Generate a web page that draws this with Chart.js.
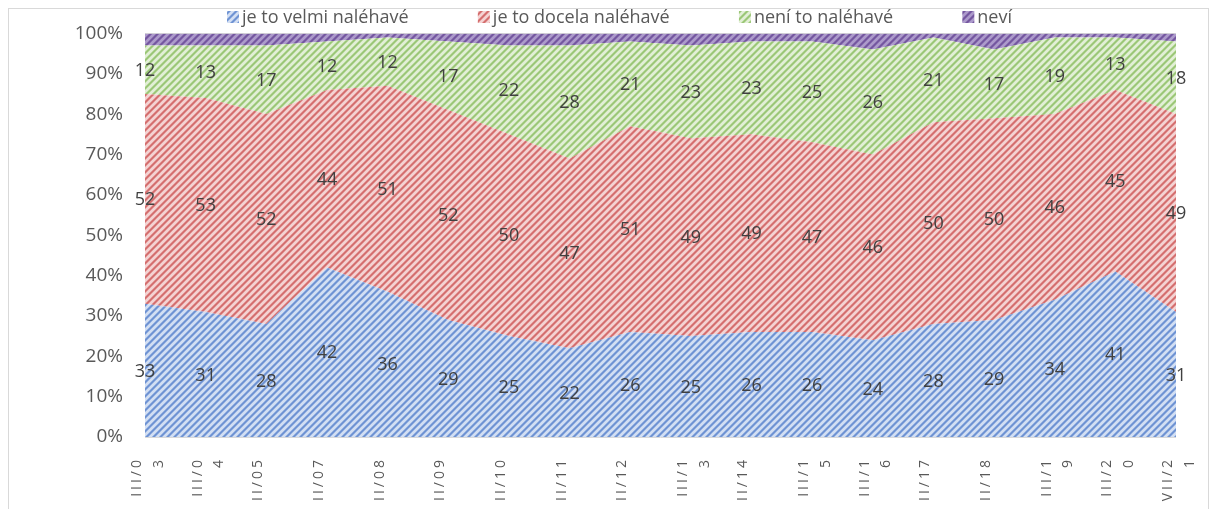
<!DOCTYPE html>
<html>
<head>
<meta charset="utf-8">
<script src="https://cdn.jsdelivr.net/npm/chart.js@4"></script>
<style>
    html, body { margin: 0; padding: 0; background: #fff; }
    #frame { position: absolute; left: 8px; top: 8px; width: 1201px; height: 520px; border: 1px solid #d9d9d9; box-sizing: border-box; }
    #wrap { position: absolute; left: 0; top: 0; width: 1216px; height: 509px; }
</style>
</head>
<body>
<div id="frame"></div>
<div id="wrap"><canvas id="chart"></canvas></div>
<script>
// survey waves (Excel wrapped the longer ones on two lines)
var categories = [['III/0', '3'], ['III/0', '4'], 'II/05', 'II/07', 'II/08', 'II/09', 'II/10', 'II/11', 'II/12',
    ['III/1', '3'], 'II/14', ['III/1', '5'], ['III/1', '6'], 'II/17', 'II/18', ['III/1', '9'], ['III/2', '0'], ['VII/2', '1']];

var seriesNames = ['je to velmi naléhavé', 'je to docela naléhavé', 'není to naléhavé', 'neví'];

var velmi = [33, 31, 28, 42, 36, 29, 25, 22, 26, 25, 26, 26, 24, 28, 29, 34, 41, 31];
var docela = [52, 53, 52, 44, 51, 52, 50, 47, 51, 49, 49, 47, 46, 50, 50, 46, 45, 49];
var neni = [12, 13, 17, 12, 12, 17, 22, 28, 21, 23, 23, 25, 26, 21, 17, 19, 13, 18];
var nevi = [3, 3, 3, 2, 1, 2, 3, 3, 2, 3, 2, 2, 4, 1, 4, 1, 1, 2];

var yTicks = [0, 10, 20, 30, 40, 50, 60, 70, 80, 90, 100];

// light / mid / dark shades of the striped fills
var shades = [
    ['#d3dff3', '#9db7e3', '#6f93d3'],
    ['#f4d3d3', '#e59e9e', '#d46f6f'],
    ['#e2efd6', '#bedba4', '#9bc777'],
    ['#ac9acb', '#8e74b3', '#7457a0']
];

var FONT = '"Open Sans", "Noto Sans", sans-serif';

var ctx = document.getElementById('chart').getContext('2d');
var hasSpacing = ('letterSpacing' in ctx);

function makeStripes(s) {
    var size = 7;
    var c = document.createElement('canvas');
    c.width = size;
    c.height = size;
    var g = c.getContext('2d');
    for (var x = 0; x < size; x++) {
        for (var y = 0; y < size; y++) {
            var k = (x + y) % size;
            g.fillStyle = (k == 1 || k == 2) ? s[2] : ((k == 0 || k == 3) ? s[1] : s[0]);
            g.fillRect(x, y, 1, 1);
        }
    }
    return ctx.createPattern(c, 'repeat');
}

var fills = shades.map(makeStripes);

function series(i, values, labelled) {
    return {
        label: seriesNames[i],
        data: values,
        backgroundColor: fills[i],
        borderColor: 'rgba(0,0,0,0)',
        borderWidth: 0,
        pointRadius: 0,
        pointHoverRadius: 0,
        tension: 0,
        fill: i == 0 ? 'origin' : '-1',
        showLabels: labelled
    };
}

// numbers in the middle of each band + Excel-like legend + spaced x labels
var extras = {
    id: 'extras',
    afterDatasetsDraw: function (chart) {
        var c = chart.ctx;
        c.save();
        c.font = '18px ' + FONT;
        c.fillStyle = '#404040';
        c.textAlign = 'center';
        c.textBaseline = 'middle';
        chart.data.datasets.forEach(function (ds, i) {
            if (!ds.showLabels) return;
            var meta = chart.getDatasetMeta(i);
            var below = i > 0 ? chart.getDatasetMeta(i - 1).data : null;
            meta.data.forEach(function (pt, j) {
                var base = below ? below[j].y : chart.scales.y.getPixelForValue(0);
                c.fillText(ds.data[j], pt.x, (pt.y + base) / 2 + 1);
            });
        });
        c.restore();
        // x tick labels are drawn after this (ticks.z = 1), spaced out like Excel
        if (hasSpacing) c.letterSpacing = '3px';
    },
    afterDraw: function (chart) {
        var c = chart.ctx;
        if (hasSpacing) c.letterSpacing = '0px';
        c.save();
        c.font = '18px ' + FONT;
        c.textBaseline = 'middle';
        c.textAlign = 'left';
        var box = 12, gapText = 3;
        var widths = seriesNames.map(function (n) { return box + gapText + c.measureText(n).width; });
        var start = 227, end = 1012;
        var sum = widths.reduce(function (a, b) { return a + b; }, 0);
        var gap = (end - start - sum) / (seriesNames.length - 1);
        var x = start, yc = 18;
        seriesNames.forEach(function (n, i) {
            c.fillStyle = fills[i];
            c.fillRect(x, yc - box / 2 - 1, box, box);
            c.fillStyle = '#595959';
            c.fillText(n, x + box + gapText, yc);
            x += widths[i] + gap;
        });
        c.restore();
    }
};

var chart = new Chart(ctx, {
    type: 'line',
    data: {
        labels: categories,
        datasets: [
            series(0, velmi, true),
            series(1, docela, true),
            series(2, neni, true),
            series(3, nevi, false)
        ]
    },
    plugins: [extras],
    options: {
        responsive: true,
        maintainAspectRatio: false,
        animation: false,
        layout: {
            padding: { left: 40, right: 40, top: 32, bottom: 0 }
        },
        plugins: {
            legend: { display: false },
            tooltip: { enabled: false }
        },
        scales: {
            x: {
                offset: false,
                afterFit: function (scale) {
                    scale.height = 72;
                    scale.paddingLeft = 0;
                    scale.paddingRight = 0;
                },
                grid: { display: false },
                border: { display: false },
                ticks: {
                    z: 1,
                    autoSkip: false,
                    minRotation: 90,
                    maxRotation: 90,
                    padding: 12,
                    labelOffset: -8,
                    color: '#595959',
                    font: { family: FONT, size: 14, lineHeight: 1.55 }
                }
            },
            y: {
                stacked: true,
                min: 0,
                max: 100,
                afterFit: function (scale) { scale.width = 105; },
                afterBuildTicks: function (scale) {
                    scale.ticks = yTicks.map(function (v) { return { value: v }; });
                },
                grid: { color: '#d9d9d9', drawTicks: false },
                border: { display: false },
                ticks: {
                    padding: 22,
                    color: '#595959',
                    font: { family: FONT, size: 19 },
                    callback: function (v) { return v + '%'; }
                }
            }
        }
    }
});
</script>
</body>
</html>
